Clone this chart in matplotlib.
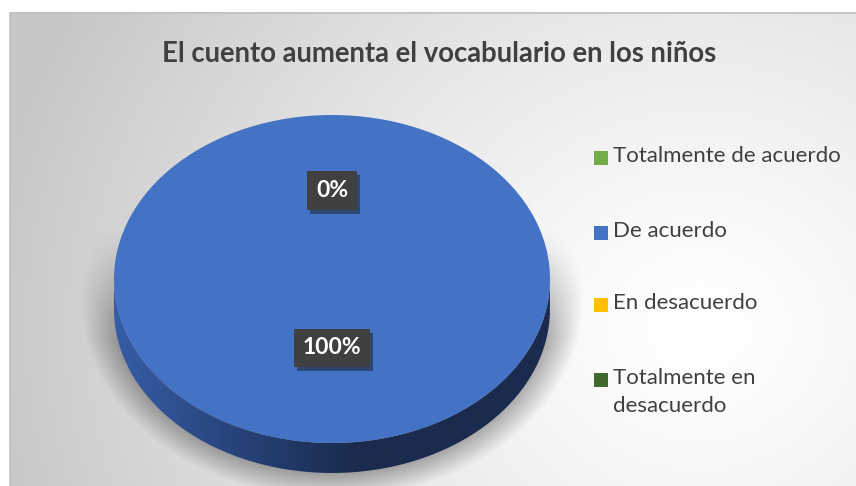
import numpy as np
import matplotlib
matplotlib.use('Agg')
import matplotlib.pyplot as plt
from matplotlib.patches import Rectangle, PathPatch
from matplotlib.path import Path
import matplotlib.patheffects as pe

plt.rcParams['font.family'] = ['Lato', 'DejaVu Sans']

titulo = 'El cuento aumenta el vocabulario en los niños'
categorias = ['Totalmente de acuerdo', 'De acuerdo', 'En desacuerdo', 'Totalmente en\ndesacuerdo']
valores = [0, 100, 0, 0]
colores = ['#70AD47', '#4472C4', '#FFC000', '#43682B']

W, H = 856, 486
fig = plt.figure(figsize=(W / 100, H / 100), dpi=100)
fig.patch.set_facecolor('white')

# fondo (coordenadas en pixeles)
ax = fig.add_axes([0, 0, 1, 1])
ax.set_xlim(0, W)
ax.set_ylim(H, 0)
ax.axis('off')

gx, gy = np.meshgrid(np.linspace(10, W, 400), np.linspace(13, H, 240))
d = np.sqrt(((gx - 700) / 1.0) ** 2 + ((gy - 330) / 0.9) ** 2)
t = np.clip(d / 720, 0, 1) ** 1.3
gris = 1.0 - t * (1.0 - 0.78)
ax.imshow(np.dstack([gris, gris, gris]), extent=[10, W, H, 13], zorder=0, interpolation='bilinear')
ax.plot([10, 10, W], [H, 13, 13], color='#c0c0c0', lw=1.2, zorder=1)

# sombra del pastel
sx, sy = np.meshgrid(np.linspace(60, 620, 300), np.linspace(150, 486, 200))
r = np.sqrt(((sx - 332) / 238) ** 2 + ((sy - 300) / 188) ** 2)
alfa = np.clip((1.06 - r) / 0.13, 0, 1) * 0.3 * np.clip((sy - 230) / 110, 0, 1)
sombra = np.zeros(sx.shape + (4,))
sombra[..., 3] = alfa
ax.imshow(sombra, extent=[60, 620, 486, 150], zorder=2, interpolation='bilinear')

ax.text(439, 54, titulo, ha='center', va='center', fontsize=19.8, fontweight='bold', color='#404040')

# pastel 3D
prof = 30 / 164
pax = fig.add_axes([114 / W, 1 - 473 / H, 436 / W, 358 / H])
pax.set_xlim(-1, 1)
pax.set_ylim(-1 - prof, 1)
pax.axis('off')

th = np.linspace(np.pi, 2 * np.pi, 200)
xs = np.concatenate([np.cos(th), np.cos(th[::-1])])
ys = np.concatenate([np.sin(th), np.sin(th[::-1]) - prof])
lado = PathPatch(Path(np.column_stack([xs, ys])), facecolor='none', edgecolor='none')
pax.add_patch(lado)
grad = np.linspace(0, 1, 256)
c0 = np.array([0x35, 0x5d, 0xa6]) / 255
c1 = np.array([0x1a, 0x2b, 0x4e]) / 255
k = np.clip(grad / 0.55, 0, 1)[None, :, None]
img = c0 * (1 - k) + c1 * k
img = np.repeat(img, 2, axis=0)
im = pax.imshow(img, extent=[-1, 1, -1 - prof, 0], aspect='auto', zorder=1, interpolation='bilinear')
im.set_clip_path(lado)

wedges, _ = pax.pie(valores, colors=colores, startangle=90, counterclock=False,
                    radius=1, wedgeprops=dict(linewidth=0))
pax.set_aspect('auto')
pax.set_xlim(-1, 1)
pax.set_ylim(-1 - prof, 1)
for w in wedges:
    w.set_zorder(2)

# etiquetas de porcentaje
total = sum(valores)
ang = 90
distancias = [0.54, 0.42]
for i, v in enumerate(valores[:2]):
    a = np.deg2rad(ang - v / total * 180)
    ang -= v / total * 360
    txt = pax.text(distancias[i] * np.cos(a), distancias[i] * np.sin(a), f'{v / total:.0%}',
                   ha='center', va='center', fontsize=16.5, fontweight='bold', color='white', zorder=5,
                   bbox=dict(boxstyle='square,pad=0.38', facecolor='#404040', edgecolor='none'))
    txt.get_bbox_patch().set_path_effects([pe.withSimplePatchShadow(offset=(2, -3), alpha=0.45), pe.Normal()])

# leyenda
ys_ley = [158, 233, 305, 380]
for nombre, c, yy in zip(categorias, colores, ys_ley):
    ax.add_patch(Rectangle((594, yy - 7), 14, 14, facecolor=c, edgecolor='none', zorder=3))
    ax.text(613, yy - 12, nombre, ha='left', va='top', fontsize=16, color='#404040',
            linespacing=1.5, zorder=3)

fig.savefig('out.png', dpi=100, facecolor='white')
